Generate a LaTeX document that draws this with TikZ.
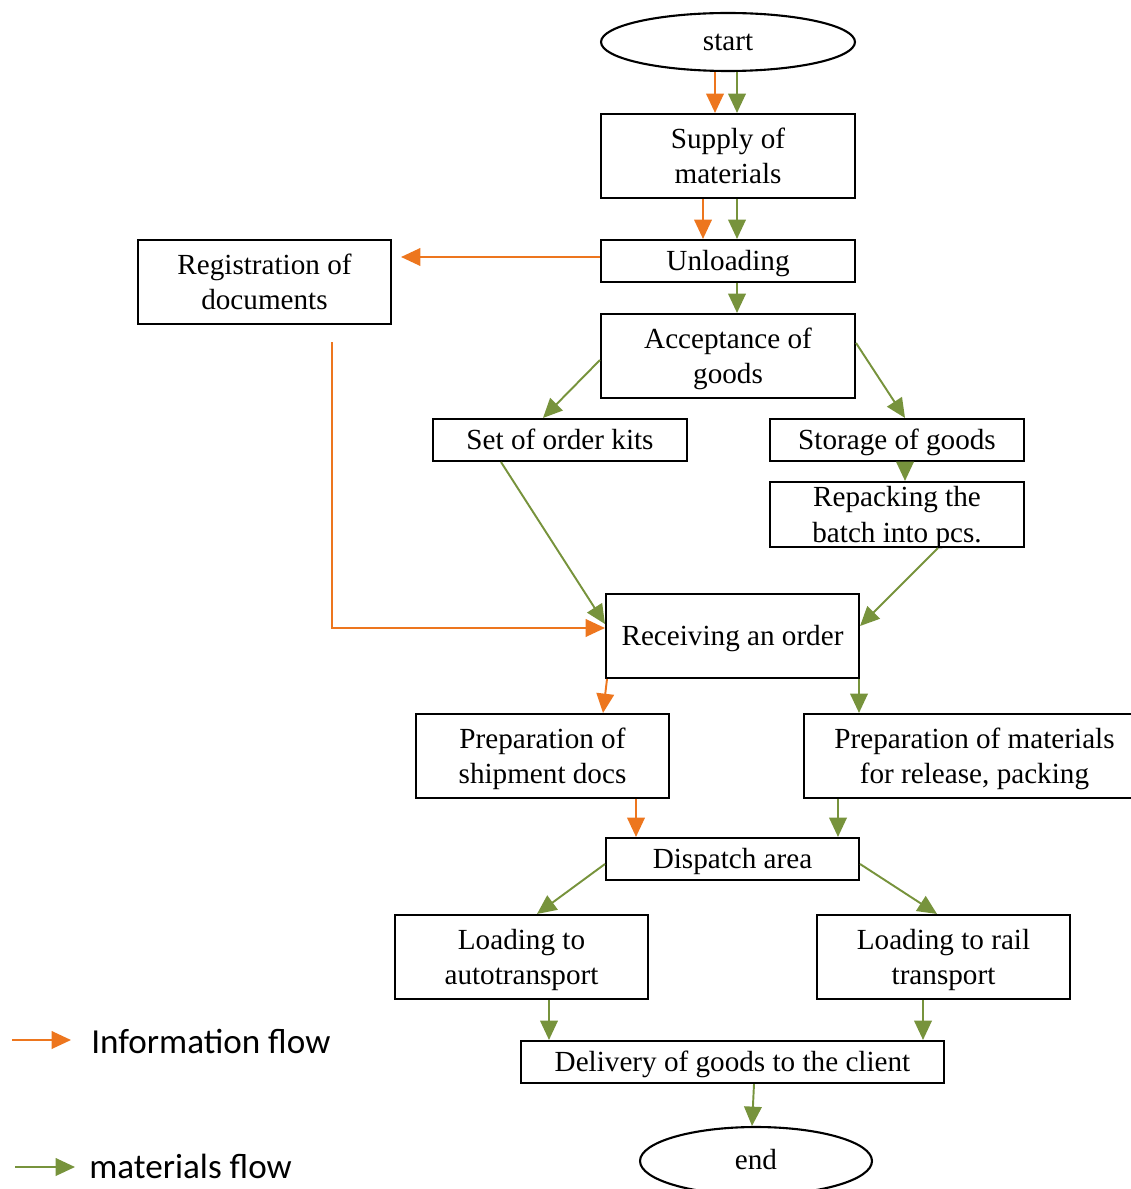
\documentclass[tikz,border=0pt]{standalone}
\usepackage{fontspec}
\setmainfont{Liberation Serif}
\newfontfamily\legendfont{Carlito}
\usetikzlibrary{arrows.meta,calc,shapes.geometric}
\definecolor{infoorange}{RGB}{237,118,30}
\definecolor{matgreen}{RGB}{119,147,60}

\begin{document}
\begin{tikzpicture}[x=0.02cm,y=-0.02cm,
  boxbase/.style={draw,line width=1.2pt,inner sep=0pt,align=center,
    font=\fontsize{16.6}{20.3}\selectfont},
  % one text line / two text lines: fixed text box so baselines sit alike
  box/.style={boxbase,rectangle,text height=14pt,text depth=3pt},
  boxtwo/.style={boxbase,rectangle,text height=33pt,text depth=1.4pt},
  term/.style={boxbase,ellipse,text height=13pt,text depth=3pt},
  flow/.style={line width=1.1pt,-{Triangle[length=11pt,width=10pt]}},
  info/.style={flow,draw=infoorange},
  mat/.style={flow,draw=matgreen},
  legendtext/.style={anchor=base west,inner sep=0pt,
    font=\legendfont\fontsize{20}{24}\selectfont}
]
\useasboundingbox (0,0) rectangle (1131,1189);

% process steps
\node[term,minimum width=5.08cm,minimum height=1.16cm] (start) at (728,42) {start};
\node[boxtwo,minimum width=5.08cm,minimum height=1.68cm] (sup) at (728,156) {Supply of\\materials};
\node[box,minimum width=5.08cm,minimum height=0.84cm] (unl) at (728,261) {Unloading};
\node[boxtwo,minimum width=5.06cm,minimum height=1.68cm] (reg) at (264.5,282) {Registration of\\documents};
\node[boxtwo,minimum width=5.08cm,minimum height=1.68cm] (acc) at (728,356) {Acceptance of\\goods};
\node[box,minimum width=5.08cm,minimum height=0.84cm] (kits) at (560,440) {Set of order kits};
\node[box,minimum width=5.08cm,minimum height=0.84cm] (stor) at (897,440) {Storage of goods};
\node[boxtwo,minimum width=5.08cm,minimum height=1.30cm] (rep) at (897,514.5) {Repacking the\\batch into pcs.};
\node[box,minimum width=5.06cm,minimum height=1.68cm] (recv) at (732.5,636) {Receiving an order};
\node[boxtwo,minimum width=5.06cm,minimum height=1.68cm] (prs) at (542.5,756) {Preparation of\\shipment docs};
\node[boxtwo,minimum width=6.82cm,minimum height=1.68cm] (prm) at (974.5,756) {Preparation of materials\\for release, packing};
\node[box,minimum width=5.06cm,minimum height=0.84cm] (disp) at (732.5,859) {Dispatch area};
\node[boxtwo,minimum width=5.06cm,minimum height=1.68cm] (lauto) at (521.5,957) {Loading to\\autotransport};
\node[boxtwo,minimum width=5.06cm,minimum height=1.68cm] (lrail) at (943.5,957) {Loading to rail\\transport};
\node[box,minimum width=8.46cm,minimum height=0.84cm] (deliv) at (732.5,1062) {Delivery of goods to the client};
\node[term,minimum width=4.64cm,minimum height=1.36cm] (end) at (756,1161) {end};

% information flow
\draw[info] (start.south -| 715,0) -- (sup.north -| 715,0);
\draw[info] (sup.south -| 703,0) -- (unl.north -| 703,0);
\draw[info,shorten >=0.18cm] (unl.west |- 0,257) -- (reg.east |- 0,257);
\draw[info,shorten <=0.34cm] (reg.south -| 332,0) |- (recv.west |- 0,628);
\draw[info] (recv.south -| 607,0) -- (prs.north -| 603,0);
\draw[info] (prs.south -| 636,0) -- (disp.north -| 636,0);

% materials flow
\draw[mat] (start.south -| 737,0) -- (sup.north -| 737,0);
\draw[mat] (sup.south -| 737,0) -- (unl.north -| 737,0);
\draw[mat] (unl.south -| 737,0) -- (acc.north -| 737,0);
\draw[mat] (acc.west |- 0,360) -- (kits.north -| 543,0);
\draw[mat] (acc.east |- 0,343) -- (stor.north -| 905,0);
\draw[mat] (stor.south -| 905,0) -- (rep.north -| 905,0);
\draw[mat] (kits.south -| 501,0) -- (recv.west |- 0,624);
\draw[mat] (rep.south -| 938,0) -- (recv.east |- 0,626);
\draw[mat] (recv.south -| 859,0) -- (prm.north -| 859,0);
\draw[mat] (prm.south -| 838,0) -- (disp.north -| 838,0);
\draw[mat] (disp.west |- 0,864) -- (lauto.north -| 537,0);
\draw[mat] (disp.east |- 0,864) -- (lrail.north -| 937,0);
\draw[mat] (lauto.south -| 549,0) -- (deliv.north -| 549,0);
\draw[mat] (lrail.south -| 923,0) -- (deliv.north -| 923,0);
\draw[mat] (deliv.south -| 754,0) -- (end.north -| 752,0);

% legend
\coordinate (li0) at (12,1040);
\coordinate (li1) at (71,1040);
\draw[info] (li0) -- (li1);
\node[legendtext] (lit) at (91,1053) {Information flow};
\coordinate (lm0) at (15,1167);
\coordinate (lm1) at (75,1167);
\draw[mat] (lm0) -- (lm1);
\node[legendtext] (lmt) at (89,1178) {materials flow};
\end{tikzpicture}
\end{document}
